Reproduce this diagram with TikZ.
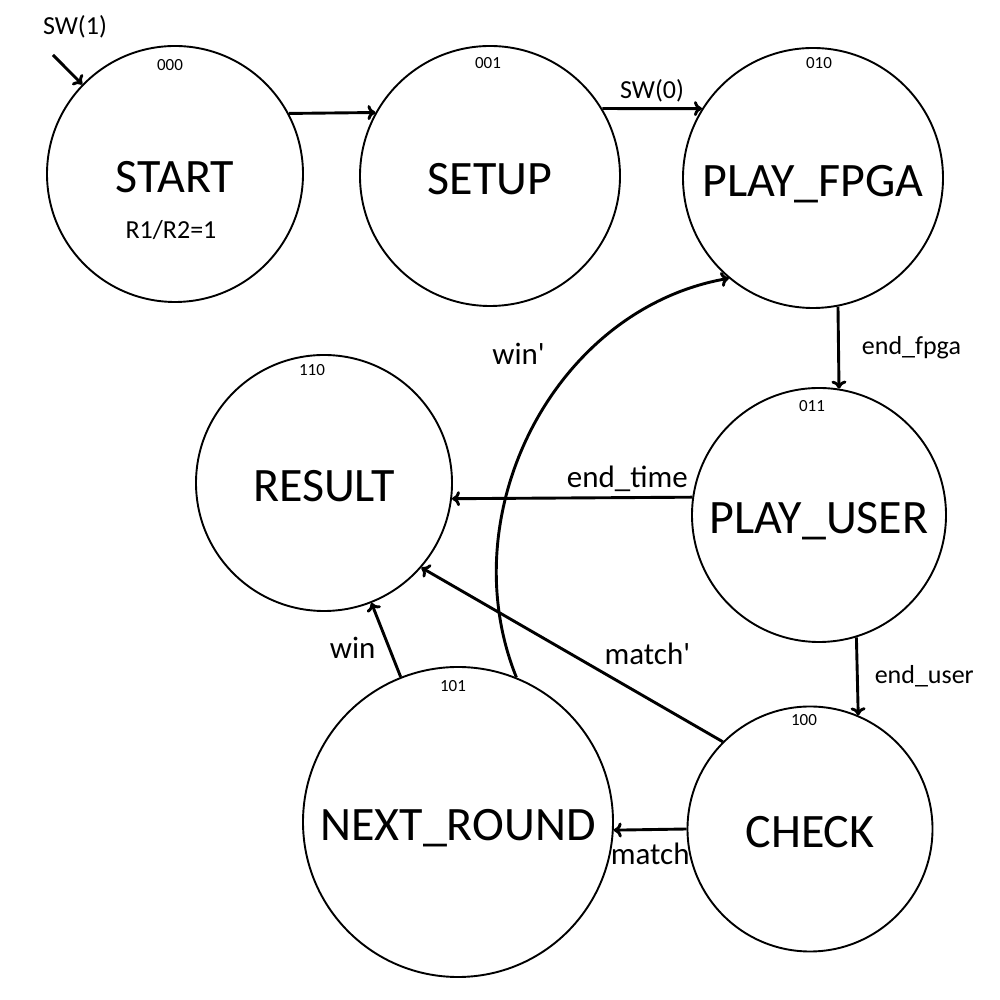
\documentclass[tikz,border=0pt]{standalone}
\usepackage{fontspec}
\setmainfont{Carlito}
\usetikzlibrary{arrows.meta,positioning}

\tikzset{
  state/.style={circle, draw, line width=1.9pt, inner sep=0pt, text height=37pt, text depth=0pt, font=\fontsize{48}{52}\selectfont},
  code/.style={inner sep=0pt, font=\fontsize{17}{19}\selectfont},
  trans/.style={inner sep=0pt, font=\fontsize{26}{30}\selectfont},
  bigtrans/.style={inner sep=0pt, font=\fontsize{31}{35}\selectfont},
}

\begin{document}
\begin{tikzpicture}[x=1pt, y=1pt, >={To[length=8pt,width=15pt]}, every edge/.style={draw, line width=2.9pt}]
  \useasboundingbox (0,0) rectangle (1000,1000);

  % states
  \node[state, minimum size=256pt] (start)  at (175,826) {START};
  \node[state, minimum size=260pt] (setup)  at (490,824) {SETUP};
  \node[state, minimum size=260pt] (fpga)   at (813,822) {PLAY\_FPGA};
  \node[state, minimum size=256pt] (result) at (324,517) {RESULT};
  \node[state, minimum size=254pt] (pu)     at (819,485) {PLAY\_USER};
  \node[state, minimum size=310pt] (nr)     at (458,178) {NEXT\_ROUND};
  \node[state, minimum size=245pt] (check)  at (810,171) {CHECK};

  % state codes
  \node[code, below=14pt of start.north, xshift=-5pt]  (startcode)  {000};
  \node[code, below=12pt of setup.north, xshift=-2pt]  (setupcode)  {001};
  \node[code, below=10pt of fpga.north, xshift=6pt]    (fpgacode)   {010};
  \node[code, below=10pt of result.north, xshift=-12pt] (resultcode) {110};
  \node[code, below=13pt of pu.north, xshift=-7pt]     (pucode)     {011};
  \node[code, below=14pt of nr.north, xshift=-5pt]     (nrcode)     {101};
  \node[code, below=9pt of check.north, xshift=-6pt]   (checkcode)  {100};

  \node[trans] (startout) at ([xshift=-4pt, yshift=-56pt]start.center) {R1/R2=1};

  % reset input
  \coordinate (init) at (53,945);
  \node[trans] (swone) at (75,973) {SW(1)};

  \path[->]
  (init) edge (start.136)
  (start.28) edge (setup.151)
  (setup.31) edge node [trans, above=5pt] {SW(0)} (fpga.148)
  (fpga.281) edge node [trans, right=22pt] {end\_fpga} (pu.81)
  (pu.287) edge node [trans, right=16pt] {end\_user} (check.67)
  (pu.172) edge node [bigtrans, pos=0.27, above=4pt] {end\_time} (result.353)
  (check.180) edge node [bigtrans, below=12pt] {match} (nr.357)
  (check.135) edge node [bigtrans, pos=0.25, above=32pt] {match\textquotesingle} (result.319)
  (nr) edge node [bigtrans, pos=0.4, left=12pt] {win} (result)
  (nr.68) edge [out=112, in=190] node [bigtrans, pos=0.68, left=40pt] {win\textquotesingle} (fpga.230);
\end{tikzpicture}
\end{document}
